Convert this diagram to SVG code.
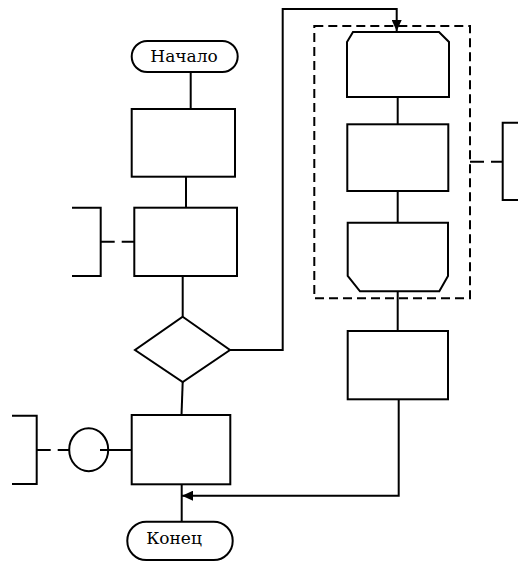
<svg xmlns="http://www.w3.org/2000/svg" width="518" height="562" viewBox="0 0 518 562">
<style>
.s{fill:none;stroke:#000;stroke-width:2}
.n{fill:#fff;stroke:#000;stroke-width:2}
.d{fill:none;stroke:#000;stroke-width:2;stroke-dasharray:14,7}
.dr{fill:none;stroke:#000;stroke-width:2;stroke-dasharray:9,5}
.t{font-family:'DejaVu Serif',serif;font-size:17px;fill:#000;text-anchor:middle}
</style>
<defs>
<marker id="arr" markerWidth="12" markerHeight="10" refX="11" refY="5" orient="auto" markerUnits="userSpaceOnUse">
<path d="M0,0 L11,5 L0,10 Z" fill="#000"/>
</marker>
</defs>
<rect width="518" height="562" fill="#fff"/>
<g id="group-box">
<rect class="dr" x="314.3" y="26" width="155.7" height="272.3"/>
</g>
<g id="start">
<rect class="n" x="131.7" y="41" width="106" height="31" rx="15.5"/>
<text class="t" x="184" y="61.5">Начало</text>
</g>
<g id="process1"><rect class="n" x="131.7" y="109" width="103.3" height="67.7"/></g>
<g id="process2"><rect class="n" x="134.3" y="207.7" width="102.7" height="68.3"/></g>
<g id="comment1"><path class="s" d="M72,207.7 H100.7 V276 H72"/></g>
<g id="decision"><polygon class="n" points="182.7,316.7 230,350 182.7,382 135,350"/></g>
<g id="process3"><rect class="n" x="131.7" y="415" width="98.6" height="69.3"/></g>
<g id="connector-circle"><ellipse class="s" cx="88.7" cy="449.7" rx="19.5" ry="21.5"/></g>
<g id="comment2"><path class="s" d="M12,415.7 H36.7 V484 H12"/></g>
<g id="end">
<rect class="n" x="127.3" y="521.7" width="105.4" height="38.3" rx="19"/>
<text class="t" x="174" y="544">Конец</text>
</g>
<g id="loop-start"><polygon class="n" points="353,32 439,32 449,42 449,97 347,97 347,42"/></g>
<g id="loop-body"><rect class="n" x="347.3" y="124.3" width="101" height="66.7"/></g>
<g id="loop-end"><polygon class="n" points="347.7,222.7 448,222.7 448,276 439.3,291.3 360,291.3 347.7,276"/></g>
<g id="process4"><rect class="n" x="347.7" y="331" width="100.3" height="68.3"/></g>
<g id="comment3"><path class="s" d="M520,122.7 H502.7 V200 H520"/></g>
<g id="connectors">
<path class="s" d="M190.7,72 V109"/>
<path class="s" d="M186,176.7 V208"/>
<path class="s" d="M182.7,276 V316.7"/>
<path class="s" d="M182.7,382 L181.5,415"/>
<path class="s" d="M181.7,484.3 V521.7"/>
<path class="s" d="M230,350 H282.7 V9 H396.7 V31" marker-end="url(#arr)"/>
<path class="s" d="M397.7,97 V124.3"/>
<path class="s" d="M397.7,191 V222.7"/>
<path class="s" d="M397.7,291.3 V331"/>
<path class="s" d="M398.7,399.3 V495.7 H182" marker-end="url(#arr)"/>
<path class="d" d="M100.7,241.7 H134.3"/>
<path class="d" d="M36.7,450 H69"/>
<path class="s" d="M100,450 H131.7"/>
<path class="d" d="M470,161.7 H502.7"/>
</g>
</svg>
